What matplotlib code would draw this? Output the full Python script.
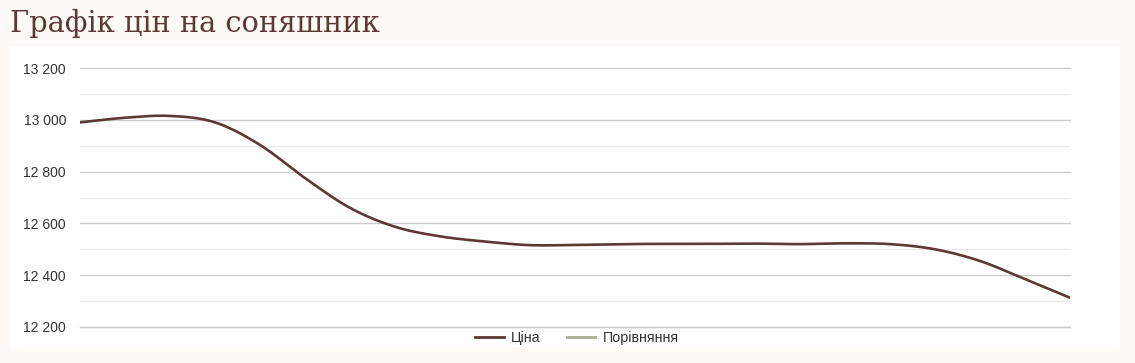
import numpy as np
import matplotlib
matplotlib.use("Agg")
import matplotlib.pyplot as plt
from matplotlib.patches import Rectangle
from matplotlib.lines import Line2D

# ---- data ----
price = [12990, 13008, 13015, 12990, 12903, 12775, 12660, 12587, 12550, 12530,
         12516, 12517, 12520, 12521, 12521, 12522, 12520, 12523, 12520, 12500,
         12455, 12385, 12313]
series_labels = ["Ціна", "Порівняння"]
y_ticks = [12200, 12400, 12600, 12800, 13000, 13200]
y_tick_labels = ["12 200", "12 400", "12 600", "12 800", "13 000", "13 200"]
title = "Графік цін на соняшник"

# ---- smooth curve (Catmull-Rom through the points) ----
def catmull(y, n=20):
    y = np.asarray(y, float)
    x = np.arange(len(y), dtype=float)
    p = np.concatenate([[2*y[0]-y[1]], y, [2*y[-1]-y[-2]]])
    xs, ys = [], []
    for i in range(len(y) - 1):
        p0, p1, p2, p3 = p[i], p[i+1], p[i+2], p[i+3]
        t = np.linspace(0, 1, n, endpoint=False)
        m1 = (p2 - p0) / 2
        m2 = (p3 - p1) / 2
        h00 = 2*t**3 - 3*t**2 + 1
        h10 = t**3 - 2*t**2 + t
        h01 = -2*t**3 + 3*t**2
        h11 = t**3 - t**2
        ys.append(h00*p1 + h10*m1 + h01*p2 + h11*m2)
        xs.append(x[i] + t)
    xs.append([x[-1]]); ys.append([y[-1]])
    return np.concatenate(xs), np.concatenate(ys)

W, H = 1135, 363
fig = plt.figure(figsize=(W/100, H/100), dpi=100)
fig.patch.set_facecolor("#fffaf6")
panel = Rectangle((10/W, (H-347)/H), 1110/W, 300/H,
                  transform=fig.transFigure, facecolor="white",
                  edgecolor="none", zorder=-10)
fig.add_artist(panel)

ax = fig.add_axes([80/W, (H-327)/H, 990/W, 259/H])
ax.set_zorder(1)
ax.set_facecolor("none")
xs, ys = catmull(price)
ax.plot(xs, ys, color="#5b3a35", lw=1.9, solid_capstyle="round", zorder=3)
ax.set_xlim(0, len(price) - 1)
ax.set_ylim(y_ticks[0], y_ticks[-1])

ax.set_yticks(y_ticks)
ax.set_yticklabels(y_tick_labels, fontfamily="Liberation Sans", fontsize=10, color="#333333")
ax.set_yticks(np.arange(12300, 13200, 200), minor=True)
ax.tick_params(axis="y", which="both", length=0, pad=10)
ax.set_xticks([])
ax.grid(axis="y", which="major", color="#cccccc", lw=1)
ax.grid(axis="y", which="minor", color="#ebebeb", lw=1)
for gl in ax.yaxis.get_gridlines():
    gl.set_clip_on(False)
ax.axhline(y_ticks[0], color="#cccccc", lw=1, clip_on=False, zorder=1)
for s in ax.spines.values():
    s.set_visible(False)

fig.text(10/W, 1 - 23/H, title, fontfamily="DejaVu Serif", fontsize=20.8,
         color="#5b3a35", va="center", ha="left")

handles = [Line2D([], [], color="#5b3a35", lw=2),
           Line2D([], [], color="#a9ab94", lw=2)]
fig.legend(handles, series_labels, loc="center", bbox_to_anchor=(577/W, 1 - 338/H),
           ncol=2, frameon=False, prop={"family": "Liberation Sans", "size": 10.3},
           handlelength=2.0, handletextpad=0.5, columnspacing=1.8,
           labelcolor="#333333")

fig.savefig("out.png", dpi=100, facecolor=fig.get_facecolor())
